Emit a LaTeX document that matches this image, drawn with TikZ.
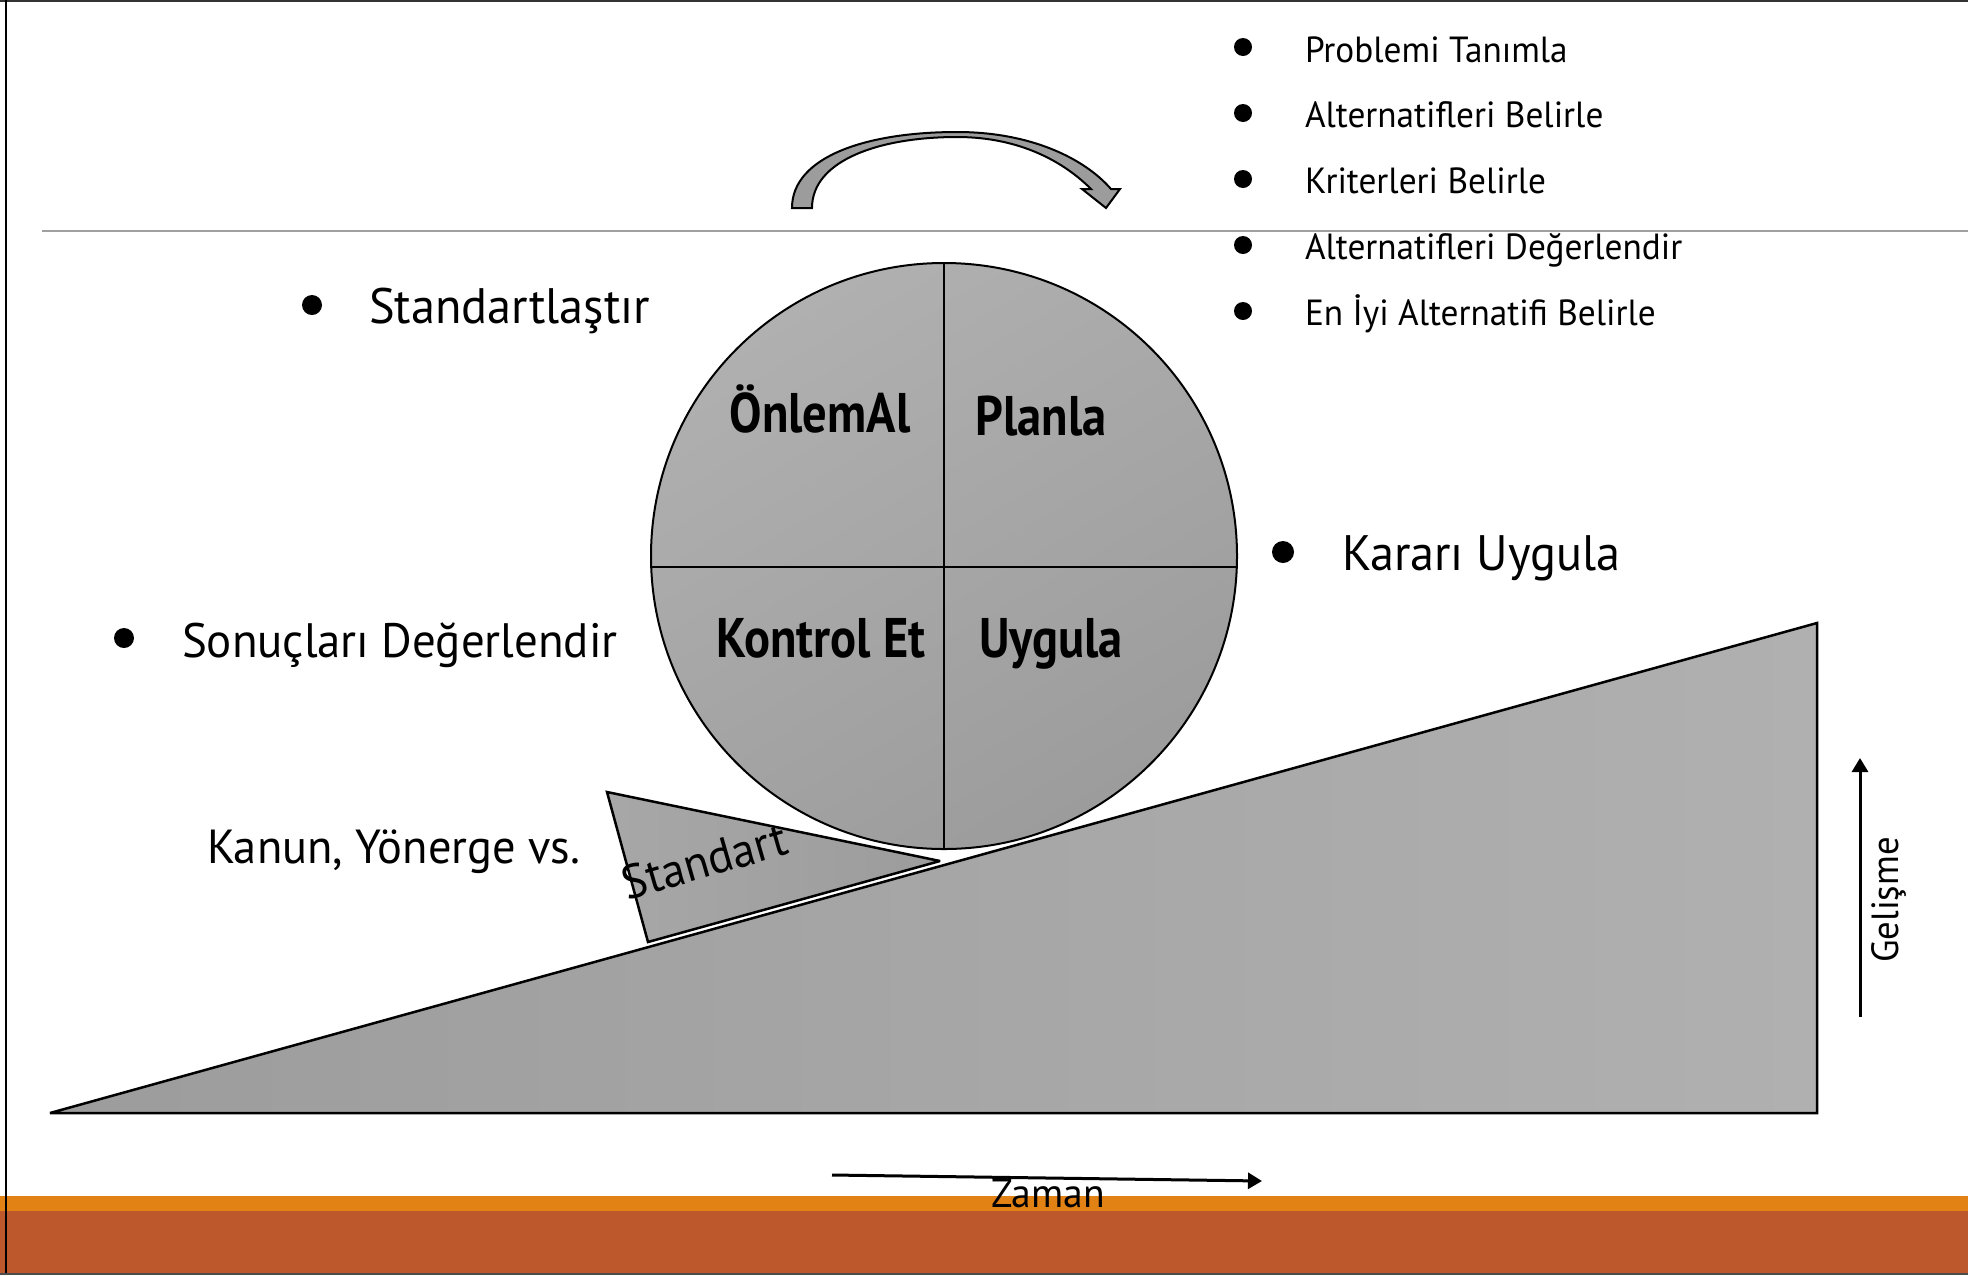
\documentclass[tikz,border=0pt]{standalone}
\usepackage{fontspec}
\setmainfont{PT Sans}[FakeStretch=0.97]
\newfontfamily\quadfont{PT Sans}[FakeStretch=0.87]
\usetikzlibrary{arrows.meta}
\definecolor{orangebar}{RGB}{227,130,20}
\definecolor{rustbar}{RGB}{188,88,44}
\definecolor{lightgray}{RGB}{176,176,176}
\definecolor{darkgray}{RGB}{156,156,156}
\definecolor{rulegray}{RGB}{160,160,160}
\tikzset{
  txt/.style={inner sep=0pt, outer sep=0pt, text=black},
  bigtxt/.style={txt, font=\fontsize{50}{60}\selectfont, anchor=base west},
  listtxt/.style={txt, font=\fontsize{36.5}{44}\selectfont, anchor=base west},
  quadtxt/.style={txt, font=\quadfont\fontsize{56}{66}\selectfont\bfseries, anchor=base},
  dot/.style={circle, fill=black, inner sep=0pt, minimum size=#1},
  shapeline/.style={draw=black, line width=2.5bp, line join=miter, miter limit=2},
  axisarrow/.style={line width=3bp, -{Triangle[length=14bp,width=16bp]}}
}
\begin{document}
\begin{tikzpicture}[x=1bp,y=-1bp]
\useasboundingbox (0,0) rectangle (1968,1275);
\fill[white] (0,0) rectangle (1968,1275);
% bottom bars
\fill[orangebar] (0,1196) rectangle (1968,1212);
\fill[rustbar] (0,1211) rectangle (1968,1275);
% frame lines
\draw[line width=2bp, black!80] (0,1) -- (1968,1);
\draw[line width=1.5bp, black] (6,0) -- (6,1275);
\draw[line width=1.5bp, black!70] (0,1274) -- (1968,1274);
\draw[line width=2bp, rulegray] (42,231) -- (1968,231);
% curved arrow
\draw[line width=2bp, fill=darkgray, line join=miter]
  (792,208) .. controls (792,156) and (868,132) .. (957,132)
  .. controls (1030,132) and (1084,158) .. (1111,189)
  -- (1120,189) -- (1106,208) -- (1082,189) -- (1091,189)
  .. controls (1064,162) and (1020,137) .. (957,137)
  .. controls (880,137) and (812,160) .. (812,208) -- cycle;
% big triangle
\path[shapeline, left color=darkgray, right color=lightgray]
  (50,1113) -- (1817,1113) -- (1817,623) -- cycle;
% standard wedge
\path[shapeline, left color=lightgray!95!black, right color=darkgray]
  (607,792) -- (940,861) -- (648,942) -- cycle;
% circle
\node[circle, minimum size=586bp, inner sep=0pt, draw=black, line width=2bp,
      shading=axis, top color=lightgray, bottom color=darkgray, shading angle=30] (wheel) at (944,556) {};
\draw[line width=2bp] (wheel.north) -- (wheel.south);
\draw[line width=2bp] (651.2,567) -- (1236.8,567);
\node[quadtxt] (onlem) at (820,432) {ÖnlemAl};
\node[quadtxt] (planla) at (1041,435) {Planla};
\node[quadtxt] (kontrol) at (821,657) {Kontrol Et};
\node[quadtxt] (uygula) at (1051,657) {Uygula};
% left/right labels
\node[dot=20bp] (b1) at (312,305) {};
\node[bigtxt] (std) at (369,323) {Standartlaştır};
\node[dot=20bp] (b2) at (124,638) {};
\node[bigtxt, font=\fontsize{48.5}{58}\selectfont] (sonuc) at (182,657) {Sonuçları Değerlendir};
\node[dot=22bp] (b3) at (1283,552) {};
\node[bigtxt] (karar) at (1342,570) {Kararı Uygula};
\node[bigtxt, font=\fontsize{48}{56}\selectfont] (kanun) at (207,863) {Kanun, Yönerge vs.};
% list
\node[dot=18bp] (l1) at (1243,47) {};
\node[listtxt] (t1) at (1305,62) {Problemi Tanımla};
\node[dot=18bp] (l2) at (1243,113) {};
\node[listtxt] (t2) at (1305,127) {Alternatifleri Belirle};
\node[dot=18bp] (l3) at (1243,179) {};
\node[listtxt] (t3) at (1305,193) {Kriterleri Belirle};
\node[dot=18bp] (l4) at (1243,245) {};
\node[listtxt] (t4) at (1305,259) {Alternatifleri Değerlendir};
\node[dot=18bp] (l5) at (1243,311) {};
\node[listtxt] (t5) at (1305,325) {En İyi Alternatifi Belirle};
% wedge text
\node[txt, font=\fontsize{48}{56}\selectfont, anchor=base, rotate=16] (stdt) at (709,877) {Standart};
% axes
\coordinate (g0) at (1860,1017);
\coordinate (g1) at (1860,758);
\draw[axisarrow] (g0) -- (g1);
\node[txt, font=\fontsize{38}{46}\selectfont, anchor=base, rotate=90] (gel) at (1898,900) {Gelişme};
\coordinate (z0) at (832,1175);
\coordinate (z1) at (1262,1181);
\draw[axisarrow] (z0) -- (z1);
\node[txt, font=\fontsize{41}{48}\selectfont, anchor=base] (zaman) at (1048,1207) {Zaman};
\end{tikzpicture}
\end{document}
